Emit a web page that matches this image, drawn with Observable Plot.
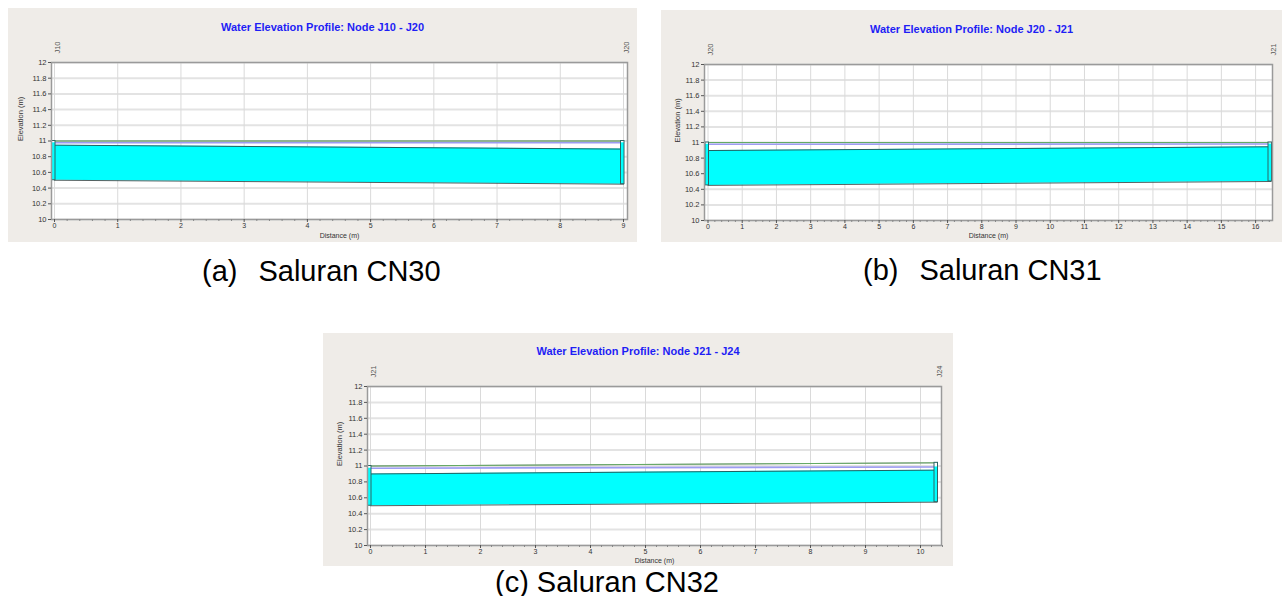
<!DOCTYPE html>
<html>
<head>
<meta charset="utf-8">
<script src="https://cdn.jsdelivr.net/npm/d3@7"></script>
<script src="https://cdn.jsdelivr.net/npm/@observablehq/plot@0.6"></script>
<style>
  html, body { margin: 0; padding: 0; background: #ffffff; }
  body { width: 1285px; height: 596px; position: relative; overflow: hidden; font-family: Arial, "Liberation Sans", sans-serif; }
  .panel { position: absolute; background: #efece8; }
  .panel svg { position: absolute; left: 0; top: 0; }
  .ptitle { position: absolute; left: 0; right: 0; text-align: center; color: #1e1ef5; font-weight: bold; font-size: 11px; line-height: 12px; z-index: 2; }
  .cap { position: absolute; font-size: 29px; line-height: 32px; color: #000; white-space: nowrap; }
  .cap .nm { margin-left: 21px; }
</style>
</head>
<body>
<script>
// ---- data ----
const titles = ["Water Elevation Profile: Node J10 - J20", "Water Elevation Profile: Node J20 - J21", "Water Elevation Profile: Node J21 - J24"];
const captionTags = ["(a)", "(b)", "(c)"];
const captionNames = ["Saluran CN30", "Saluran CN31", "Saluran CN32"];
const startNodes = ["J10", "J20", "J21"];
const endNodes = ["J20", "J21", "J24"];
const lengths = [9.0, 16.45, 10.3];            // distance (m) of the downstream node
const invertStart = [10.50, 10.45, 10.50];     // pipe invert (m)
const invertEnd = [10.45, 10.50, 10.545];
const waterStart = [10.947, 10.897, 10.90];    // water surface (m)
const waterEnd = [10.897, 10.945, 10.948];
const hglStart = [10.977, 10.977, 10.972];     // blue line (m)
const hglEnd = [10.977, 10.980, 10.988];
const groundStart = [11.0, 11.0, 11.0];        // green line / top (m)
const groundEnd = [11.0, 11.0, 11.04];
const xTickMax = [9, 16, 10];
const yTickValues = [10, 10.2, 10.4, 10.6, 10.8, 11, 11.2, 11.4, 11.6, 11.8, 12];
const yTickLabels = ["10", "10.2", "10.4", "10.6", "10.8", "11", "11.2", "11.4", "11.6", "11.8", "12"];
const xAxisLabel = "Distance (m)";
const yAxisLabel = "Elevation (m)";

// ---- layout (page pixels) ----
const layouts = [
  {left: 8,   top: 8,   w: 629, h: 234, mt: 54, mb: 23, ml: 43, mr: 10, il: 3,   ir: 4,   titleY: 13, ylabDx: -31, xlabDy: 18, cap: {left: 202, top: 255}},
  {left: 661, top: 10,  w: 621, h: 232, mt: 54, mb: 22, ml: 43, mr: 10, il: 3.5, ir: 1.5, titleY: 13, ylabDx: -27, xlabDy: 17.5, cap: {left: 863, top: 254}},
  {left: 323, top: 333, w: 630, h: 233, mt: 53, mb: 21, ml: 44, mr: 12, il: 3,   ir: 4.5, titleY: 12, ylabDx: -28, xlabDy: 17, cap: {left: 495, top: 566}}
];

const font = "Arial, 'Liberation Sans', sans-serif";

function makePlot(i) {
  const lay = layouts[i];
  const L = lengths[i];
  const xs = d3.range(0, xTickMax[i] + 1);
  const minor = d3.range(0, Math.round(L * 5) + 1).map(k => k / 5).filter(v => Math.abs(v - Math.round(v)) > 1e-6);
  const pipe = [
    {d: 0, inv: invertStart[i], wat: waterStart[i], hgl: hglStart[i], gr: groundStart[i]},
    {d: L, inv: invertEnd[i], wat: waterEnd[i], hgl: hglEnd[i], gr: groundEnd[i]}
  ];
  const nodes = [
    {d: 0, name: startNodes[i], inv: invertStart[i], top: groundStart[i], w: hglStart[i]},
    {d: L, name: endNodes[i], inv: invertEnd[i], top: groundEnd[i], w: hglEnd[i]}
  ];
  const ppu = (lay.w - lay.ml - lay.mr - lay.il - lay.ir) / L;
  const mx1 = n => n.d - 2.5 / ppu;
  const mx2 = n => n.d + 1.0 / ppu;

  return Plot.plot({
    width: lay.w,
    height: lay.h,
    marginTop: lay.mt,
    marginBottom: lay.mb,
    marginLeft: lay.ml,
    marginRight: lay.mr,
    style: {background: "transparent", fontFamily: font, fontSize: "7.5px", color: "#333", overflow: "visible"},
    x: {domain: [0, L], insetLeft: lay.il, insetRight: lay.ir},
    y: {domain: [10, 12]},
    marks: [
      Plot.frame({fill: "white"}),
      Plot.gridY(yTickValues, {stroke: "#e3e3e3", strokeOpacity: 1, strokeWidth: 2}),
      Plot.gridX(xs, {stroke: "#dadada", strokeOpacity: 1}),
      Plot.areaY(pipe, {x: "d", y1: "inv", y2: "wat", fill: "#00ffff"}),
      Plot.line(pipe, {x: "d", y: "gr", stroke: "#8a8a8a", strokeWidth: 1}),
      Plot.line(pipe, {x: "d", y: "hgl", stroke: "#9c9cf2", strokeWidth: 1.6}),
      Plot.line(pipe, {x: "d", y: "gr", stroke: "#5fae5f", strokeWidth: 1, strokeOpacity: 0.9}),
      Plot.line(pipe, {x: "d", y: "wat", stroke: "#2a3a3a", strokeWidth: 1, strokeOpacity: 0.8}),
      Plot.line(pipe, {x: "d", y: "inv", stroke: "#2a3a3a", strokeWidth: 1, strokeOpacity: 0.8}),
      Plot.rect(nodes, {x1: mx1, x2: mx2, y1: "inv", y2: "top", fill: "white"}),
      Plot.rect(nodes, {x1: mx1, x2: mx2, y1: "inv", y2: "w", fill: "#00ffff"}),
      Plot.rect(nodes, {x1: mx1, x2: mx2, y1: "inv", y2: "top", fill: "none", stroke: "#2e6464", strokeWidth: 1}),
      Plot.frame({stroke: "#9a9a9a", strokeWidth: 1.5}),
      Plot.axisY(yTickValues, {tickSize: 3, tickPadding: 2, fontSize: 7.5, stroke: "#555", fill: "#333",
        tickFormat: d => yTickLabels[yTickValues.indexOf(d)], label: null}),
      Plot.axisX(xs, {tickSize: 3, tickPadding: 1, fontSize: 7, stroke: "#555", fill: "#333", label: null}),
      Plot.axisX(minor, {tickSize: 2, text: null, stroke: "#888", label: null}),
      Plot.text(nodes, {x: "d", text: "name", frameAnchor: "top", dy: -15, rotate: -90, fontSize: 7.5, fill: "#555"}),
      Plot.text([yAxisLabel], {frameAnchor: "left", dx: lay.ylabDx, rotate: -90, fontSize: 7.5, fill: "#333"}),
      Plot.text([xAxisLabel], {frameAnchor: "bottom", dy: lay.xlabDy, fontSize: 7, fill: "#333"})
    ]
  });
}

layouts.forEach((lay, i) => {
  const panel = document.createElement("div");
  panel.className = "panel";
  Object.assign(panel.style, {left: lay.left + "px", top: lay.top + "px", width: lay.w + "px", height: lay.h + "px"});
  const t = document.createElement("div");
  t.className = "ptitle";
  t.style.top = lay.titleY + "px";
  t.textContent = titles[i];
  panel.appendChild(t);
  panel.appendChild(makePlot(i));
  document.body.appendChild(panel);

  const cap = document.createElement("div");
  cap.className = "cap";
  Object.assign(cap.style, {left: lay.cap.left + "px", top: lay.cap.top + "px"});
  const tag = document.createElement("span");
  tag.textContent = captionTags[i];
  const nm = document.createElement("span");
  nm.className = "nm";
  if (i === 2) nm.style.marginLeft = "8px";
  nm.textContent = captionNames[i];
  cap.appendChild(tag);
  cap.appendChild(nm);
  document.body.appendChild(cap);
});
</script>
</body>
</html>
